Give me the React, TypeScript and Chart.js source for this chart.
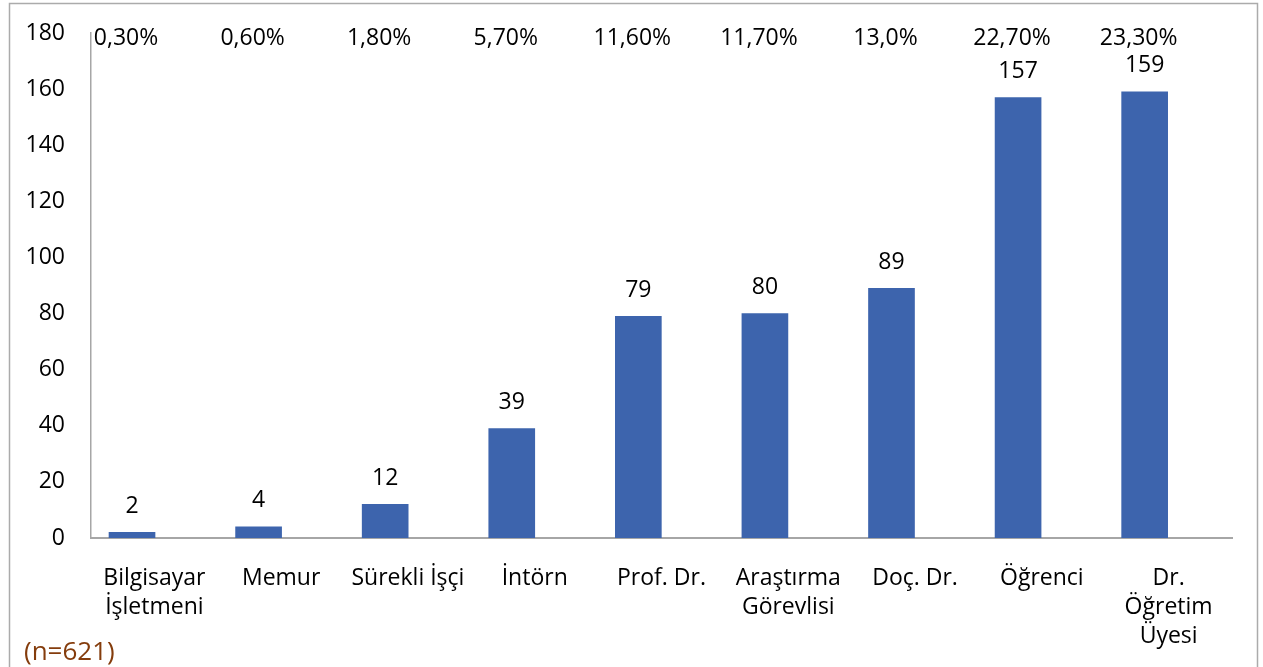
import React, { useEffect, useRef } from "react";
import { Chart, registerables } from "chart.js";

Chart.register(...registerables);

const categories: (string | string[])[] = [
  ["Bilgisayar", "İşletmeni"],
  "Memur",
  "Sürekli İşçi",
  "İntörn",
  "Prof. Dr.",
  ["Araştırma", "Görevlisi"],
  "Doç. Dr.",
  "Öğrenci",
  ["Dr.", "Öğretim", "Üyesi"],
];
const counts = [2, 4, 12, 39, 79, 80, 89, 157, 159];
const percents = ["0,30%", "0,60%", "1,80%", "5,70%", "11,60%", "11,70%", "13,0%", "22,70%", "23,30%"];
const yTicks = { min: 0, max: 180, step: 20 };
const noteText = "(n=621)";

const FONT = "'Open Sans', sans-serif";
const FS = 23;

export default function App() {
  const ref = useRef<HTMLCanvasElement | null>(null);

  useEffect(() => {
    document.body.style.margin = "0";
    const canvas = ref.current;
    if (!canvas) return;

    const overlay = {
      id: "overlay",
      afterDatasetsDraw(chart: any) {
        const ctx = chart.ctx;
        const x2 = chart.scales.x2;
        const meta = chart.getDatasetMeta(0);
        ctx.save();
        ctx.fillStyle = "#000";
        ctx.font = `${FS}px ${FONT}`;
        ctx.textAlign = "center";
        ctx.textBaseline = "middle";
        meta.data.forEach((bar: any, i: number) => {
          ctx.fillText(String(counts[i]), bar.x, bar.y - 26);
        });
        percents.forEach((p, i) => {
          ctx.fillText(p, x2.getPixelForValue(i) - 6, 38);
        });
        ctx.fillStyle = "#843C0C";
        ctx.textAlign = "left";
        ctx.font = `26px ${FONT}`;
        ctx.fillText(noteText, 24, 653);
        ctx.strokeStyle = "#ABABAB";
        ctx.lineWidth = 1.5;
        ctx.strokeRect(9.5, 3.5, 1248, 700);
        ctx.restore();
      },
    };

    const chart = new Chart(canvas, {
      type: "bar",
      data: {
        labels: categories,
        datasets: [
          {
            data: counts.map((v, i) => ({ x: i, y: v })),
            xAxisID: "x2",
            backgroundColor: "#3D64AD",
            barThickness: 46,
          },
        ],
      },
      options: {
        animation: false,
        responsive: false,
        maintainAspectRatio: false,
        layout: { padding: { top: 33, right: 31, left: 0, bottom: 0 } },
        plugins: { legend: { display: false }, tooltip: { enabled: false } },
        scales: {
          x: {
            type: "category",
            grid: { display: false, drawTicks: false },
            border: { display: true, color: "#A6A6A6", width: 2 },
            ticks: {
              color: "#000",
              font: { family: FONT, size: FS, lineHeight: 1.26 },
              padding: 26,
              maxRotation: 0,
              autoSkip: false,
            },
            afterFit: (s: any) => {
              s.height = 129;
            },
          },
          x2: {
            type: "linear",
            display: false,
            min: -0.324,
            max: 8.69,
            offset: false,
          },
          y: {
            min: yTicks.min,
            max: yTicks.max,
            grid: { display: false, drawTicks: false },
            border: { display: true, color: "#A6A6A6", width: 1.5 },
            ticks: {
              stepSize: yTicks.step,
              color: "#000",
              font: { family: FONT, size: FS },
              padding: 26,
            },
            afterFit: (s: any) => {
              s.width = 91;
              s.paddingTop = 0;
              s.paddingBottom = 0;
            },
          },
        },
      },
      plugins: [overlay],
    });

    return () => chart.destroy();
  }, []);

  return (
    <div style={{ width: 1263, height: 667, background: "#fff" }}>
      <canvas ref={ref} width={1263} height={667} style={{ display: "block" }} />
    </div>
  );
}
